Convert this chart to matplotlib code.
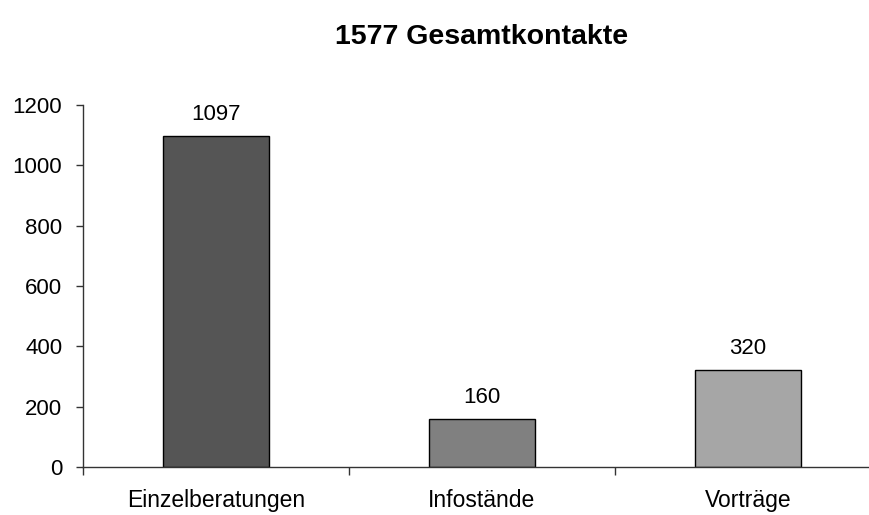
import matplotlib.pyplot as plt

# data
categories = ['Einzelberatungen', 'Infostände', 'Vorträge']
kontakte = [1097, 160, 320]
bar_colors = ['#555555', '#808080', '#a6a6a6']
title = '1577 Gesamtkontakte'
y_ticks = [0, 200, 400, 600, 800, 1000, 1200]

plt.rcParams['font.family'] = ['Liberation Sans', 'DejaVu Sans']

fig = plt.figure(figsize=(8.7, 5.15), dpi=100)
# axis spans past the right edge like in the cropped original
ax = fig.add_axes([83 / 870, 48 / 515, 798 / 870, 362 / 515])

x = range(len(categories))
bars = ax.bar(x, kontakte, width=0.4, color=bar_colors,
              edgecolor='black', linewidth=1)

for b, v in zip(bars, kontakte):
    ax.annotate(str(v), (b.get_x() + b.get_width() / 2, v),
                xytext=(0, 8), textcoords='offset points',
                ha='center', va='bottom', fontsize=16)

ax.set_xlim(-0.5, 2.5)
ax.set_ylim(0, 1200)
ax.set_yticks(y_ticks)
ax.tick_params(axis='y', labelsize=16, length=5, width=1, color='#333333', pad=10)

ax.set_xticks(list(x))
ax.set_xticklabels(categories, fontsize=16.5)
ax.tick_params(axis='x', which='major', length=0, pad=16)
ax.set_xticks([-0.5, 0.5, 1.5, 2.5], minor=True)
ax.tick_params(axis='x', which='minor', length=6, width=1, color='#333333')

for s in ['top', 'right']:
    ax.spines[s].set_visible(False)
for s in ['left', 'bottom']:
    ax.spines[s].set_color('#333333')
    ax.spines[s].set_linewidth(1)

ax.set_title(title, fontsize=20.5, fontweight='bold', pad=44)

fig.savefig('out.png', dpi=100)
